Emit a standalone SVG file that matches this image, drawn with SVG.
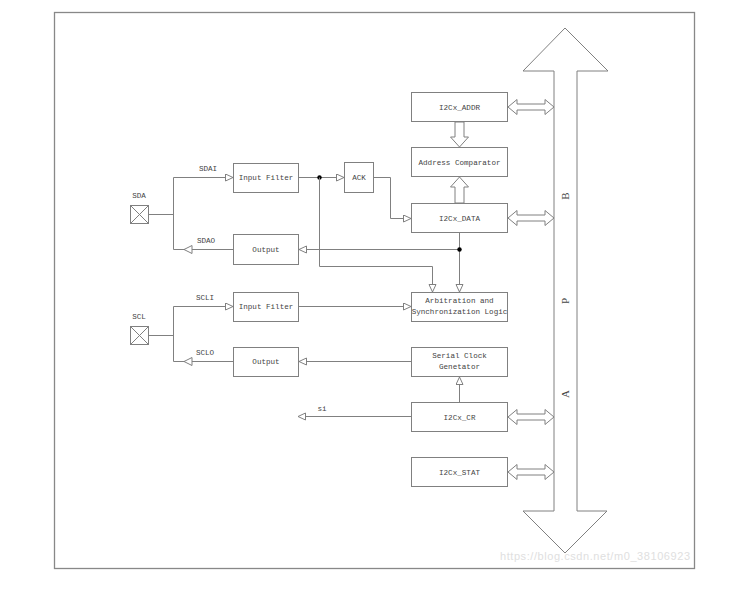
<svg xmlns="http://www.w3.org/2000/svg" width="754" height="591" viewBox="0 0 754 591">
<style>
.b{fill:#fff;stroke:#808080;stroke-width:1}
.l{fill:none;stroke:#808080;stroke-width:1}
.t{font-family:"Liberation Mono",monospace;font-size:7.6px;fill:#444;text-anchor:middle}
.bl{font-family:"Liberation Serif",serif;font-size:11px;fill:#444;text-anchor:middle}
.h{fill:#fff;stroke:#808080;stroke-width:1}
</style>
<defs>
<marker id="ah" markerUnits="userSpaceOnUse" markerWidth="10" markerHeight="10" refX="8" refY="4" orient="auto">
<path d="M0.5,0.5 L8,4 L0.5,7.5 z" fill="#fff" stroke="#808080" stroke-width="1"/>
</marker>
</defs>
<rect width="754" height="591" fill="#fff"/>
<rect x="54.5" y="12.5" width="640" height="556" fill="none" stroke="#888" stroke-width="1.3"/>
<text x="595" y="560" font-family="Liberation Sans,sans-serif" font-size="11" fill="#e0e0e0" text-anchor="middle" textLength="190">https://blog.csdn.net/m0_38106923</text>

<g id="bus">
<polygon class="b" points="565,28 608,71 577,71 577,511 607,511 565,553 523,511 554,511 554,71 523,71"/>
<text class="bl" transform="translate(569,196) rotate(-90)">B</text>
<text class="bl" transform="translate(569,301) rotate(-90)">P</text>
<text class="bl" transform="translate(569,394) rotate(-90)">A</text>
</g>

<g id="sda">
<rect class="b" x="130.5" y="205.5" width="18" height="18"/>
<path class="l" d="M130.5,205.5 L148.5,223.5 M148.5,205.5 L130.5,223.5"/>
<text class="t" x="139" y="198">SDA</text>
</g>
<g id="scl">
<rect class="b" x="130.5" y="326.5" width="18" height="18"/>
<path class="l" d="M130.5,326.5 L148.5,344.5 M148.5,326.5 L130.5,344.5"/>
<text class="t" x="139" y="319">SCL</text>
</g>

<g id="sda_if"><rect class="b" x="233.5" y="163.5" width="65" height="29"/><text class="t" x="266" y="180">Input Filter</text></g>
<g id="sda_out"><rect class="b" x="233.5" y="234.5" width="65" height="30"/><text class="t" x="266" y="252">Output</text></g>
<g id="scl_if"><rect class="b" x="233.5" y="292.5" width="65" height="29"/><text class="t" x="266" y="309">Input Filter</text></g>
<g id="scl_out"><rect class="b" x="233.5" y="347.5" width="65" height="29"/><text class="t" x="266" y="364">Output</text></g>
<g id="ack"><rect class="b" x="344.5" y="162.5" width="29" height="30"/><text class="t" x="359" y="180">ACK</text></g>

<g id="addr"><rect class="b" x="411.5" y="92.5" width="96" height="29"/><text class="t" x="459.5" y="110">I2Cx_ADDR</text></g>
<g id="comp"><rect class="b" x="411.5" y="147.5" width="96" height="29"/><text class="t" x="459.5" y="165">Address Comparator</text></g>
<g id="data"><rect class="b" x="411.5" y="203.5" width="96" height="29"/><text class="t" x="459.5" y="221">I2Cx_DATA</text></g>
<g id="arb"><rect class="b" x="411.5" y="292.5" width="96" height="29"/><text class="t" x="459.5" y="303">Arbitration and</text><text class="t" x="459.5" y="314">Synchronization Logic</text></g>
<g id="scg"><rect class="b" x="411.5" y="347.5" width="96" height="29"/><text class="t" x="459.5" y="358">Serial Clock</text><text class="t" x="459.5" y="369">Genetator</text></g>
<g id="cr"><rect class="b" x="411.5" y="402.5" width="96" height="29"/><text class="t" x="459.5" y="420">I2Cx_CR</text></g>
<g id="stat"><rect class="b" x="411.5" y="457.5" width="96" height="29"/><text class="t" x="459.5" y="475">I2Cx_STAT</text></g>

<g id="connectors">
<path class="l" d="M148.5,214.5 H173.5 M173.5,177.5 V249.5"/>
<path class="l" d="M173.5,177.5 H233" marker-end="url(#ah)"/>
<path class="l" d="M233.5,249.5 H173.5"/>
<polygon class="h" points="184,249.5 192,245.5 192,253.5"/>
<text class="t" x="208" y="171">SDAI</text>
<text class="t" x="206" y="243">SDAO</text>
<path class="l" d="M148.5,335.5 H173.5 M173.5,306.5 V361.5"/>
<path class="l" d="M173.5,306.5 H233" marker-end="url(#ah)"/>
<path class="l" d="M233.5,361.5 H173.5"/>
<polygon class="h" points="184,361.5 192,357.5 192,365.5"/>
<text class="t" x="205" y="300">SCLI</text>
<text class="t" x="205" y="355">SCLO</text>
<path class="l" d="M298.5,177.5 H344" marker-end="url(#ah)"/>
<circle cx="319.5" cy="177.5" r="2.2" fill="#000"/>
<path class="l" d="M373.5,177.5 H390.5 V218.5 H411" marker-end="url(#ah)"/>
<path class="l" d="M319.5,177.5 V266.5 H432.5 V292" marker-end="url(#ah)"/>
<path class="l" d="M459.5,232.5 V292" marker-end="url(#ah)"/>
<path class="l" d="M459.5,249.5 H299" marker-end="url(#ah)"/>
<circle cx="459.5" cy="249.5" r="2.2" fill="#000"/>
<path class="l" d="M298.5,306.5 H411" marker-end="url(#ah)"/>
<path class="l" d="M411.5,361.5 H299" marker-end="url(#ah)"/>
<path class="l" d="M459.5,402.5 V377" marker-end="url(#ah)"/>
<path class="l" d="M411.5,416.5 H298" marker-end="url(#ah)"/>
<text class="t" x="322" y="411">si</text>
<polygon class="b" points="455,122 464,122 464,137 468.5,137 459.5,147 450.5,137 455,137"/>
<polygon class="b" points="455,203 464,203 464,187 468.5,187 459.5,177 450.5,187 455,187"/>
<polygon class="b" points="508,107 517,99.5 517,104 545,104 545,99.5 554,107 545,114.5 545,110 517,110 517,114.5"/>
<polygon class="b" points="508,218 517,210.5 517,215 545,215 545,210.5 554,218 545,225.5 545,221 517,221 517,225.5"/>
<polygon class="b" points="508,417 517,409.5 517,414 545,414 545,409.5 554,417 545,424.5 545,420 517,420 517,424.5"/>
<polygon class="b" points="508,472 517,464.5 517,469 545,469 545,464.5 554,472 545,479.5 545,475 517,475 517,479.5"/>
</g>
</svg>
